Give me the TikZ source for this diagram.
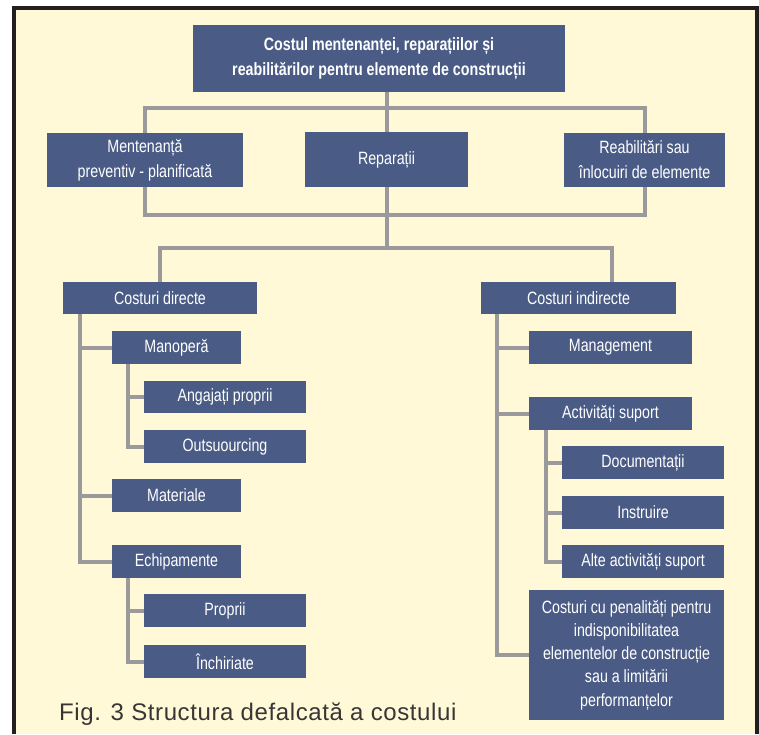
\documentclass[tikz,border=0pt]{standalone}
\usepackage{fontspec}
\setmainfont{Liberation Sans}
\newfontfamily\boxfont[FakeStretch=0.8]{Liberation Sans}
\newfontfamily\capfont[LetterSpace=2.5]{Liberation Sans}
\definecolor{boxblue}{HTML}{4A5C86}
\definecolor{linegrey}{HTML}{9A9A9C}
\definecolor{cream}{HTML}{FFF9D7}
\definecolor{framedark}{HTML}{231F20}
\begin{document}
\begin{tikzpicture}[x=1pt,y=-1pt,
  box/.style={fill=boxblue, text=white, inner sep=0pt, align=center,
    font=\boxfont\fontsize{17.8}{24}\selectfont},
  conn/.style={draw=linegrey, line width=4pt, line join=miter}]
\useasboundingbox (0,0) rectangle (759,734);
\fill[white] (0,0) rectangle (759,734);
\fill[cream] (16,10) rectangle (755,734);
\fill[framedark] (12,6) rectangle (16,734);
\fill[framedark] (12,6) rectangle (759,10);
\fill[framedark] (755,6) rectangle (759,734);

% top level
\node[box, minimum width=372pt, minimum height=67pt,
  font=\boxfont\bfseries\fontsize{17.8}{25}\selectfont] (tb) at (379,58.5)
  {Costul mentenanței, reparațiilor și\\reabilitărilor pentru elemente de construcții};
\node[box, minimum width=196pt, minimum height=54pt, font=\boxfont\fontsize{17.8}{25}\selectfont] (ment) at (145,160) {Mentenanță\\preventiv - planificată};
\node[box, minimum width=163pt, minimum height=55pt] (rep) at (386.5,159.5) {Reparații};
\node[box, minimum width=161pt, minimum height=54pt, font=\boxfont\fontsize{17.8}{25}\selectfont] (reab) at (644.5,160) {Reabilitări sau\\înlocuiri de elemente};

% direct costs
\node[box, minimum width=194pt, minimum height=32pt] (cd) at (160,298) {Costuri directe};
\node[box, minimum width=129pt, minimum height=33pt] (man) at (176.5,347.5) {Manoperă};
\node[box, minimum width=162pt, minimum height=32pt] (ang) at (225,397) {Angajați proprii};
\node[box, minimum width=162pt, minimum height=33pt] (out) at (225,446.5) {Outsuourcing};
\node[box, minimum width=129pt, minimum height=33pt] (mat) at (176.5,495.5) {Materiale};
\node[box, minimum width=129pt, minimum height=33pt] (ech) at (176.5,561.5) {Echipamente};
\node[box, minimum width=162pt, minimum height=33pt] (pro) at (225,610.5) {Proprii};
\node[box, minimum width=162pt, minimum height=33pt] (inc) at (225,661.5) {Închiriate};

% indirect costs
\node[box, minimum width=195pt, minimum height=32pt] (ci) at (578.5,298) {Costuri indirecte};
\node[box, minimum width=163pt, minimum height=33pt] (mgmt) at (610.5,347.5) {Management};
\node[box, minimum width=163pt, minimum height=33pt] (act) at (610.5,413.5) {Activități suport};
\node[box, minimum width=162pt, minimum height=33pt] (doc) at (643,462.5) {Documentații};
\node[box, minimum width=162pt, minimum height=33pt] (ins) at (643,512.5) {Instruire};
\node[box, minimum width=162pt, minimum height=33pt] (alt) at (643,561.5) {Alte activități suport};
\node[box, minimum width=195pt, minimum height=130pt, font=\boxfont\fontsize{17.8}{23.3}\selectfont] (pen) at (626.5,655)
  {Costuri cu penalități pentru\\indisponibilitatea\\elementelor de construcție\\sau a limitării\\performanțelor};

% connectors, top part
\draw[conn] (rep.north |- tb.south) -- (rep.north);
\draw[conn] (ment.north) -- ++(0,-25) -| (reab.north);
\draw[conn] (ment.south) -- ++(0,28) -| (reab.south);
\draw[conn] (rep.south) -- ++(0,28) coordinate (j1) -- ++(0,33) coordinate (j2);
\draw[conn] (cd.north) |- (j2) -| ([xshift=33.5pt]ci.north);

% direct cost tree
\draw[conn] ([xshift=17pt]cd.south west) |- (ech.west);
\draw[conn] ([xshift=17pt]cd.south west) |- (man.west);
\draw[conn] ([xshift=17pt]cd.south west) |- (mat.west);
\draw[conn] ([xshift=16pt]man.south west) |- (out.west);
\draw[conn] ([xshift=16pt]man.south west) |- (ang.west);
\draw[conn] ([xshift=16pt]ech.south west) |- (inc.west);
\draw[conn] ([xshift=16pt]ech.south west) |- (pro.west);

% indirect cost tree
\draw[conn] ([xshift=16pt]ci.south west) |- (pen.west);
\draw[conn] ([xshift=16pt]ci.south west) |- (mgmt.west);
\draw[conn] ([xshift=16pt]ci.south west) |- (act.west);
\draw[conn] ([xshift=17pt]act.south west) |- (alt.west);
\draw[conn] ([xshift=17pt]act.south west) |- (doc.west);
\draw[conn] ([xshift=17pt]act.south west) |- (ins.west);

% caption
\node[anchor=base west, inner sep=0pt, text=framedark!90,
  font=\capfont\fontsize{24}{27}\selectfont] (cap) at (59,720)
  {Fig. 3 Structura defalcată a costului};
\end{tikzpicture}
\end{document}
